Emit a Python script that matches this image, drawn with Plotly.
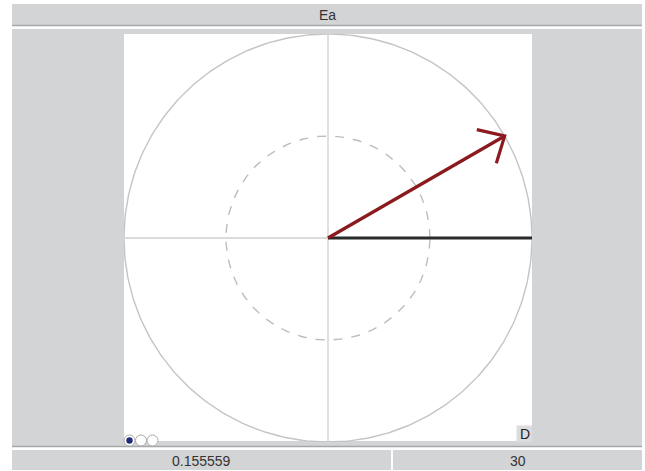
import numpy as np
import plotly.graph_objects as go

# ---- data ----
title_text = "Ea"
vector_names = ["reference", "Ea"]
vector_magnitudes = [1.0, 1.0]
vector_angles_deg = [0.0, 30.0]
readout_values = ["0.155559", "30"]
ring_radii = [1.0, 0.5]
mode_label = "D"

W, H = 645, 471
L, R, T, B = 124, 532, 34, 442
GRAY = "#d3d4d6"
EDGE = "#a6a7a9"

def px(x):
    return (x - L) / (R - L)

def py(y):
    return (B - y) / (B - T)

def rect(x0, y0, x1, y1, fill, line=None):
    return dict(type="rect", xref="paper", yref="paper",
                x0=px(x0), x1=px(x1), y0=py(y1), y1=py(y0),
                fillcolor=fill, line=dict(width=0) if line is None else line,
                layer="below")

def hline(x0, x1, y, color, w):
    return dict(type="line", xref="paper", yref="paper",
                x0=px(x0), x1=px(x1), y0=py(y), y1=py(y),
                line=dict(color=color, width=w), layer="below")

fig = go.Figure()

theta = np.linspace(0, 2 * np.pi, 361)
# reference rings
for r, dash, col in zip(ring_radii, ["solid", "dash"], ["#c4c4c4", "#bdbdbd"]):
    fig.add_trace(go.Scatter(x=r * np.cos(theta), y=r * np.sin(theta), mode="lines",
                             line=dict(color=col, width=1.4, dash=dash),
                             hoverinfo="skip", showlegend=False))

# crosshair
fig.add_trace(go.Scatter(x=[-1, 1], y=[0, 0], mode="lines",
                         line=dict(color="#cfcfcf", width=1.3), hoverinfo="skip", showlegend=False))
fig.add_trace(go.Scatter(x=[0, 0], y=[-1, 1], mode="lines",
                         line=dict(color="#cfcfcf", width=1.3), hoverinfo="skip", showlegend=False))

colors = ["#2a2a2a", "#8b1a1e"]
head_len = 0.14
head_ang = np.deg2rad(43)
for name, mag, ang, col in zip(vector_names, vector_magnitudes, vector_angles_deg, colors):
    a = np.deg2rad(ang)
    tx, ty = mag * np.cos(a), mag * np.sin(a)
    xs = [0, tx]
    ys = [0, ty]
    if name != "reference":
        back = a + np.pi
        xs += [None, tx + head_len * np.cos(back - head_ang), tx, tx + head_len * np.cos(back + head_ang)]
        ys += [None, ty + head_len * np.sin(back - head_ang), ty, ty + head_len * np.sin(back + head_ang)]
    fig.add_trace(go.Scatter(x=xs, y=ys, mode="lines", name=name,
                             line=dict(color=col, width=3.2), showlegend=False))

shapes = [
    rect(12, 4, 642, 25, GRAY),
    hline(12, 642, 25.5, EDGE, 1.5),
    rect(12, 29, 642, 446, GRAY),
    hline(12, 642, 446.5, EDGE, 1.5),
    rect(L, T, R, B - 1, "white"),
    rect(12, 450, 391, 470, GRAY),
    rect(393, 450, 642, 470, GRAY),
    rect(516.5, 425.5, 532, 442, "#dcdcde"),
]

# radio buttons
rb_r = 5.5
for i, cx in enumerate([129.5, 141, 152.5]):
    cy = 440.5
    shapes.append(dict(type="circle", xref="paper", yref="paper",
                       x0=px(cx - rb_r), x1=px(cx + rb_r), y0=py(cy + rb_r), y1=py(cy - rb_r),
                       fillcolor="white", line=dict(color="#a9a9a9", width=1)))
    if i == 0:
        ir = 3.2
        shapes.append(dict(type="circle", xref="paper", yref="paper",
                           x0=px(cx - ir), x1=px(cx + ir), y0=py(cy + ir), y1=py(cy - ir),
                           fillcolor="#1f2a78", line=dict(width=0)))

font = dict(family="Liberation Sans, Arial, sans-serif", size=14, color="#333333")
annotations = [
    dict(text=title_text, xref="paper", yref="paper", x=px(327), y=py(15.5),
         showarrow=False, font=font, xanchor="center", yanchor="middle"),
    dict(text=readout_values[0], xref="paper", yref="paper", x=px(201.5), y=py(460.5),
         showarrow=False, font=font, xanchor="center", yanchor="middle"),
    dict(text=readout_values[1], xref="paper", yref="paper", x=px(517.5), y=py(460.5),
         showarrow=False, font=font, xanchor="center", yanchor="middle"),
    dict(text=mode_label, xref="paper", yref="paper", x=px(524.5), y=py(434),
         showarrow=False, font=dict(family="Liberation Sans, Arial, sans-serif", size=14, color="#222"),
         xanchor="center", yanchor="middle"),
]

fig.update_layout(
    width=W, height=H,
    margin=dict(l=L, r=W - R, t=T, b=H - B, pad=0),
    paper_bgcolor="white", plot_bgcolor="rgba(0,0,0,0)",
    xaxis=dict(range=[-1, 1], visible=False, fixedrange=True),
    yaxis=dict(range=[-1, 1], visible=False, fixedrange=True),
    shapes=shapes, annotations=annotations, showlegend=False,
)

fig.write_html("out.html", config={"displayModeBar": False},
               post_script="document.body.style.margin='0';document.body.style.overflow='hidden';")
